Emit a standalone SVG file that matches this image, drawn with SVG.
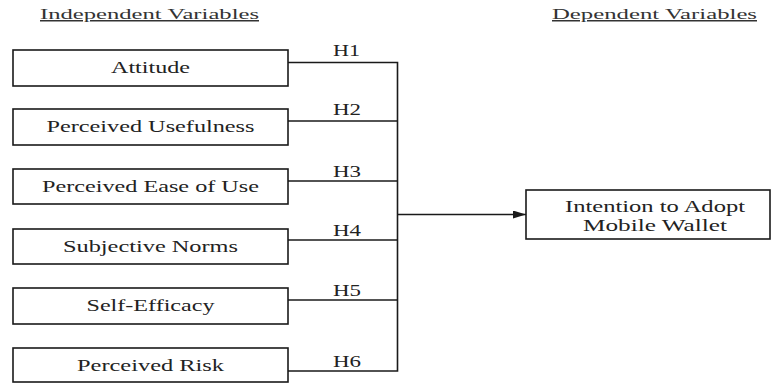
<svg xmlns="http://www.w3.org/2000/svg" width="772" height="383" viewBox="0 0 772 383">
<defs>
<style>
.box{fill:#fff;stroke:#1a1a1a;stroke-width:1.6}
.t{font-family:'Liberation Serif','Times New Roman','DejaVu Serif',serif;font-size:16px;fill:#222;text-anchor:middle}
.h{font-family:'Liberation Serif','Times New Roman','DejaVu Serif',serif;font-size:16px;fill:#222}
.hd{font-family:'Liberation Serif','Times New Roman','DejaVu Serif',serif;font-size:15px;fill:#333;text-decoration:underline}
.ln{fill:none;stroke:#1a1a1a;stroke-width:1.6}
</style>
<marker id="arr" markerWidth="13" markerHeight="8" refX="13" refY="4" orient="auto" markerUnits="userSpaceOnUse">
<path d="M0,0 L13,4 L0,8 Z" fill="#1a1a1a"/>
</marker>
</defs>
<rect width="772" height="383" fill="#fff"/>
<text class="hd" x="40" y="19" textLength="219" lengthAdjust="spacingAndGlyphs">Independent Variables</text>
<text class="hd" x="552" y="19" textLength="205" lengthAdjust="spacingAndGlyphs">Dependent Variables</text>
<g id="connectors">
<path class="ln" d="M288,62.5 H397.5 V371 H288"/>
<path class="ln" d="M288,121 H397.5"/>
<path class="ln" d="M288,181 H397.5"/>
<path class="ln" d="M288,240 H397.5"/>
<path class="ln" d="M288,300 H397.5"/>
<path class="ln" d="M397.5,214.5 H526" marker-end="url(#arr)"/>
<text class="h" x="333" y="56" textLength="27" lengthAdjust="spacingAndGlyphs">H1</text>
<text class="h" x="333" y="115" textLength="28" lengthAdjust="spacingAndGlyphs">H2</text>
<text class="h" x="333" y="176.5" textLength="28" lengthAdjust="spacingAndGlyphs">H3</text>
<text class="h" x="333" y="236" textLength="28" lengthAdjust="spacingAndGlyphs">H4</text>
<text class="h" x="333" y="296" textLength="28" lengthAdjust="spacingAndGlyphs">H5</text>
<text class="h" x="333" y="366.5" textLength="28" lengthAdjust="spacingAndGlyphs">H6</text>
</g>
<g id="attitude">
<rect class="box" x="13" y="50" width="275" height="36"/>
<text class="t" x="150.5" y="73" textLength="79" lengthAdjust="spacingAndGlyphs">Attitude</text>
</g>
<g id="usefulness">
<rect class="box" x="13" y="109" width="275" height="36"/>
<text class="t" x="150.5" y="132" textLength="208" lengthAdjust="spacingAndGlyphs">Perceived Usefulness</text>
</g>
<g id="ease">
<rect class="box" x="13" y="169" width="275" height="35"/>
<text class="t" x="150.5" y="191.5" textLength="217" lengthAdjust="spacingAndGlyphs">Perceived Ease of Use</text>
</g>
<g id="norms">
<rect class="box" x="13" y="229" width="275" height="35"/>
<text class="t" x="150.5" y="251.5" textLength="175" lengthAdjust="spacingAndGlyphs">Subjective Norms</text>
</g>
<g id="efficacy">
<rect class="box" x="13" y="288" width="275" height="36"/>
<text class="t" x="150.5" y="311" textLength="128" lengthAdjust="spacingAndGlyphs">Self-Efficacy</text>
</g>
<g id="risk">
<rect class="box" x="13" y="348" width="275" height="34"/>
<text class="t" x="150.5" y="370.5" textLength="147" lengthAdjust="spacingAndGlyphs">Perceived Risk</text>
</g>
<g id="intention">
<rect class="box" x="526" y="190" width="244" height="49"/>
<text class="t" x="655" y="212" textLength="180" lengthAdjust="spacingAndGlyphs">Intention to Adopt</text>
<text class="t" x="655" y="231" textLength="144" lengthAdjust="spacingAndGlyphs">Mobile Wallet</text>
</g>
</svg>
